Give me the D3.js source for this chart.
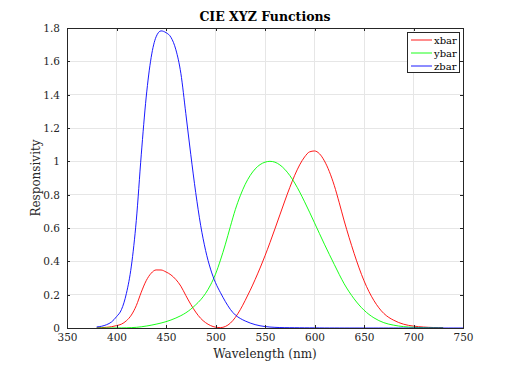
<!DOCTYPE html>
<html><head><meta charset="utf-8">
<script src="https://cdn.jsdelivr.net/npm/d3@7"></script>
<style>body{margin:0;background:#fff}svg{display:block}</style>
</head><body>
<script>
const wavelengths = d3.range(380, 785, 5);
const xbar = [0.001368,0.002236,0.004243,0.00765,0.01431,0.02319,0.04351,0.07763,0.13438,0.21477,0.2839,0.3285,0.34828,0.34806,0.3362,0.3187,0.2908,0.2511,0.19536,0.1421,0.09564,0.05795,0.03201,0.0147,0.0049,0.0024,0.0093,0.0291,0.06327,0.1096,0.1655,0.22575,0.2904,0.3597,0.43345,0.51205,0.5945,0.6784,0.7621,0.8425,0.9163,0.9786,1.0263,1.0567,1.0622,1.0456,1.0026,0.9384,0.85445,0.7514,0.6424,0.5419,0.4479,0.3608,0.2835,0.2187,0.1649,0.1212,0.0874,0.0636,0.04677,0.0329,0.0227,0.01584,0.011359,0.008111,0.00579,0.004109,0.002899,0.002049,0.00144];
const ybar = [0.000039,0.000064,0.00012,0.000217,0.000396,0.00064,0.00121,0.00218,0.004,0.0073,0.0116,0.01684,0.023,0.0298,0.038,0.048,0.06,0.0739,0.09098,0.1126,0.13902,0.1693,0.20802,0.2586,0.323,0.4073,0.503,0.6082,0.71,0.7932,0.862,0.91485,0.954,0.9803,0.99495,1.0,0.995,0.9786,0.952,0.9154,0.87,0.8163,0.757,0.6949,0.631,0.5668,0.503,0.4412,0.381,0.321,0.265,0.217,0.175,0.1382,0.107,0.0816,0.061,0.04458,0.032,0.0232,0.017,0.01192,0.00821,0.005723,0.004102,0.002929,0.002091,0.001484,0.001047,0.00074,0.00052];
const zbar = [0.00645,0.01055,0.02005,0.03621,0.06785,0.1102,0.2074,0.3713,0.6456,1.03905,1.3856,1.62296,1.74706,1.7826,1.77211,1.7441,1.6692,1.5281,1.28764,1.0419,0.81295,0.6162,0.46518,0.3533,0.272,0.2123,0.1582,0.1117,0.07825,0.05725,0.04216,0.02984,0.0203,0.0134,0.00875,0.00575,0.0039,0.00275,0.0021,0.0018,0.00165,0.0014,0.0011,0.001,0.0008,0.0006,0.00034,0.00024,0.00019,0.0001,0.00005,0.00003,0.00002,0.00001,0,0,0,0,0,0,0,0,0,0,0,0,0,0,0,0,0,0,0,0,0,0,0,0,0,0,0];
const seriesNames = ["xbar","ybar","zbar"];
const seriesColors = ["#ff0000","#00ff00","#0000ff"];
const xTicks = [350,400,450,500,550,600,650,700,750];
const yTicks = [0,0.2,0.4,0.6,0.8,1,1.2,1.4,1.6,1.8];

const W=512,H=369;
const L=67,R=463,T=28,B=328;
const font='"DejaVu Serif", Georgia, serif';
const svg=d3.select("body").append("svg").attr("width",W).attr("height",H);
const x=d3.scaleLinear().domain([350,750]).range([L,R]);
const y=d3.scaleLinear().domain([0,1.8]).range([B,T]);

svg.append("rect").attr("x",L).attr("y",T).attr("width",R-L).attr("height",B-T).attr("fill","#fff");
// grid
const g=svg.append("g");
g.selectAll(".gx").data(xTicks.slice(1,-1)).enter().append("line")
 .attr("x1",d=>x(d)).attr("x2",d=>x(d)).attr("y1",T).attr("y2",B)
 .attr("stroke","#e6e6e6").attr("stroke-width",1).attr("shape-rendering","crispEdges");
g.selectAll(".gy").data(yTicks.slice(1,-1)).enter().append("line")
 .attr("y1",d=>y(d)).attr("y2",d=>y(d)).attr("x1",L).attr("x2",R)
 .attr("stroke","#e6e6e6").attr("stroke-width",1).attr("shape-rendering","crispEdges");

svg.append("clipPath").attr("id","clip").append("rect").attr("x",L).attr("y",T-2).attr("width",R-L).attr("height",B-T+2);
const data=[xbar,ybar,zbar];
const line=d3.line().x(d=>x(d[0])).y(d=>y(d[1])).curve(d3.curveMonotoneX);
data.forEach((arr,i)=>{
  const pts=arr.map((v,j)=>[wavelengths[j],v]);
  svg.append("path").attr("d",line(pts)).attr("fill","none")
   .attr("stroke",seriesColors[i]).attr("stroke-width",0.9).attr("clip-path","url(#clip)");
});

// axes
const ax=svg.append("g").attr("transform",`translate(0,${B})`)
 .call(d3.axisBottom(x).tickValues(xTicks).tickSize(-3).tickPadding(6).tickFormat(d3.format("d")));
const axT=svg.append("g").attr("transform",`translate(0,${T})`)
 .call(d3.axisTop(x).tickValues(xTicks).tickSize(-3).tickFormat(""));
const ay=svg.append("g").attr("transform",`translate(${L},0)`)
 .call(d3.axisLeft(y).tickValues(yTicks).tickSize(-3).tickPadding(7).tickFormat(d=>d3.format("")(+d.toFixed(1))));
const ayR=svg.append("g").attr("transform",`translate(${R},0)`)
 .call(d3.axisRight(y).tickValues(yTicks).tickSize(-3).tickFormat(""));
[ax,axT,ay,ayR].forEach(a=>{
  a.selectAll("path").attr("stroke","#262626").attr("stroke-width",1).attr("shape-rendering","crispEdges");
  a.selectAll("line").attr("stroke","#262626").attr("shape-rendering","crispEdges");
  a.selectAll("text").attr("fill","#262626").style("font-family",font).style("font-size","10.5px");
});
ax.selectAll(".tick text").attr("dy","0.71em");

// title & labels
svg.append("text").attr("x",(L+R)/2).attr("y",21).attr("text-anchor","middle")
 .style("font-family",font).style("font-weight","bold").style("font-size","12.5px").attr("fill","#000")
 .text("CIE XYZ Functions");
svg.append("text").attr("x",(L+R)/2).attr("y",358).attr("text-anchor","middle")
 .style("font-family",font).style("font-size","12px").attr("fill","#262626")
 .text("Wavelength (nm)");
svg.append("text").attr("transform",`translate(40,${(T+B)/2}) rotate(-90)`).attr("text-anchor","middle")
 .style("font-family",font).style("font-size","12px").attr("fill","#262626")
 .text("Responsivity");

// legend
const lg=svg.append("g");
lg.append("rect").attr("x",407.5).attr("y",32.5).attr("width",52).attr("height",40)
 .attr("fill","#fff").attr("stroke","#262626").attr("stroke-width",1).attr("shape-rendering","crispEdges");
seriesNames.forEach((n,i)=>{
  const yy=40+i*13;
  lg.append("line").attr("x1",411).attr("x2",432).attr("y1",yy).attr("y2",yy)
   .attr("stroke",seriesColors[i]).attr("stroke-width",0.9);
  lg.append("text").attr("x",434).attr("y",yy).attr("dy","0.35em")
   .style("font-family",font).style("font-size","10px").attr("fill","#000").text(n);
});
</script>
</body></html>
